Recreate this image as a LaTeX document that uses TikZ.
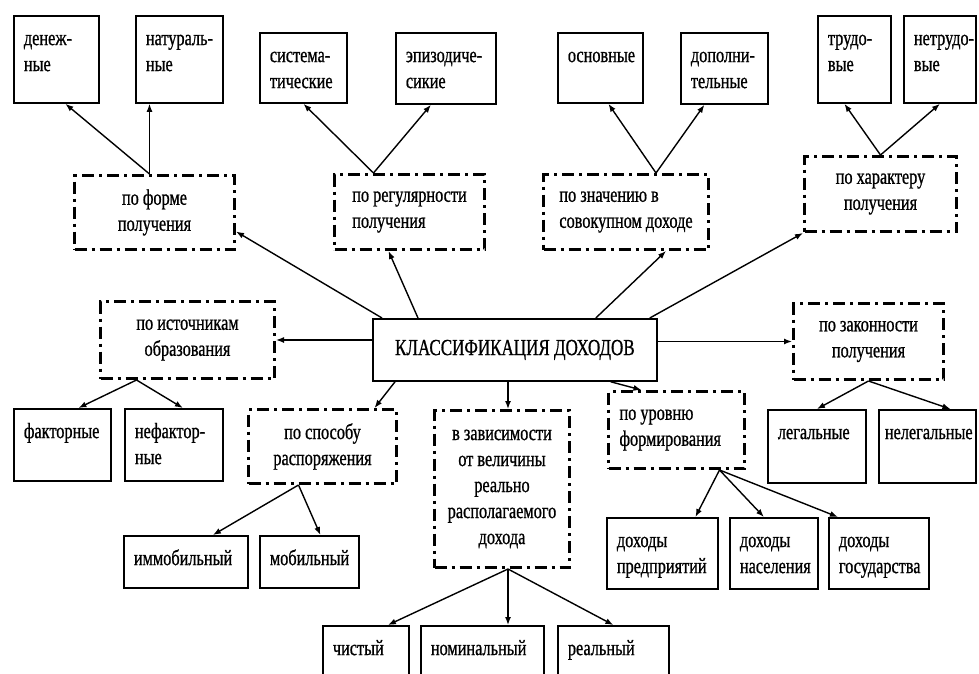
\documentclass[tikz,border=0pt]{standalone}
\usepackage{fontspec}
\setmainfont{Liberation Serif}[FakeStretch=0.74, FakeBold=0.8]
\usetikzlibrary{arrows.meta}

\newcommand\leafcell[3]{\parbox[t][#2pt][t]{\dimexpr#1pt-20pt\relax}{\exhyphenpenalty=10000
	\hyphenpenalty=10000\raggedright\vspace*{11pt}\strut#3}}

\begin{document}
\begin{tikzpicture}[x=1pt, y=-1pt,
	every node/.style={font=\fontsize{22}{26}\selectfont},
	leaf/.style={draw, line width=1.8pt, anchor=north west, inner xsep=10pt, inner ysep=0pt},
	cat/.style={draw, line width=3pt, dash pattern=on 12pt off 5pt on 3pt off 5pt,
		anchor=north west, inner sep=0pt, align=center},
	root/.style={draw, line width=1.8pt, anchor=north west, inner sep=0pt,
		font=\fontsize{23}{28}\selectfont},
	arr/.style={-{Latex[length=8pt,width=6pt]}, line width=1.4pt}]
	\clip (0,0) rectangle (979,674);
	% root
	\node[root, minimum width=284, minimum height=62] (cls) at (372,318) {КЛАССИФИКАЦИЯ ДОХОДОВ};
	% criteria
	\node[cat, minimum width=160, minimum height=74] (form) at (73,174) {по форме\\получения};
	\node[cat, minimum width=150, minimum height=75, align=left] (reg) at (333,173) {по регулярности\\получения};
	\node[cat, minimum width=165, minimum height=75, align=left] (val) at (542,173) {по значению в\\совокупном доходе};
	\node[cat, minimum width=152, minimum height=75] (char) at (803,155) {по характеру\\получения};
	\node[cat, minimum width=174, minimum height=77] (src) at (99,300) {по источникам\\образования};
	\node[cat, minimum width=150, minimum height=76] (law) at (792,302) {по законности\\получения};
	\node[cat, minimum width=148, minimum height=74] (disp) at (247,408) {по способу\\распоряжения};
	\node[cat, minimum width=135, minimum height=157] (dep) at (433,409)
		{в зависимости\\от величины\\реально\\располагаемого\\дохода};
	\node[cat, minimum width=136, minimum height=77, text width=114, align=flush left] (lvl) at (607,390)
		{по уровню\\формирования};
	% kinds
	\node[leaf] (den) at (13,15) {\leafcell{85}{87}{денеж-\\ные}};
	\node[leaf] (nat) at (135,15) {\leafcell{87}{87}{натураль-\\ные}};
	\node[leaf] (syst) at (259,32) {\leafcell{87}{70}{система-\\тические}};
	\node[leaf] (epi) at (395,32) {\leafcell{100}{71}{эпизодиче-\\сикие}};
	\node[leaf] (osn) at (557,32) {\leafcell{85}{70}{основные}};
	\node[leaf] (dop) at (680,32) {\leafcell{87}{71}{дополни-\\тельные}};
	\node[leaf] (trud) at (817,15) {\leafcell{73}{87}{трудо-\\вые}};
	\node[leaf] (netr) at (903,15) {\leafcell{72}{87}{нетрудо-\\вые}};
	\node[leaf] (fact) at (13,408) {\leafcell{97}{72}{факторные}};
	\node[leaf] (nefact) at (124,408) {\leafcell{98}{72}{нефактор-\\ные}};
	\node[leaf] (imm) at (123,535) {\leafcell{124}{52}{иммобильный}};
	\node[leaf] (mob) at (259,535) {\leafcell{99}{52}{мобильный}};
	\node[leaf] (chist) at (322,625) {\leafcell{86}{60}{чистый}};
	\node[leaf] (nom) at (420,625) {\leafcell{123}{60}{номинальный}};
	\node[leaf] (real) at (557,625) {\leafcell{111}{60}{реальный}};
	\node[leaf] (pred) at (606,517) {\leafcell{111}{71}{доходы\\предприятий}};
	\node[leaf] (nas) at (729,517) {\leafcell{88}{71}{доходы\\населения}};
	\node[leaf] (gos) at (828,517) {\leafcell{100}{71}{доходы\\государства}};
	\node[leaf] (legal) at (767,409) {\leafcell{98}{73}{легальные}};
	\node[leaf] (nelegal) at (878,409) {\leafcell{97}{73}{\hspace*{-4pt}нелегальные}};
	% from the root
	\draw[arr] ([xshift=10pt]cls.north west) -- ([yshift=-19pt]form.east);
	\draw[arr] ([xshift=46pt]cls.north west) -- ([xshift=-21pt]reg.south);
	\draw[arr] ([xshift=-62pt]cls.north east) -- ([xshift=40pt]val.south);
	\draw[arr] ([xshift=-8pt]cls.north east) -- (char.south west);
	\draw[arr] (cls.west |- src.east) -- (src.east);
	\draw[arr] (cls.east |- law.west) -- (law.west);
	\draw[arr] ([xshift=23pt]cls.south west) -- ([xshift=52pt]disp.north);
	\coordinate (d) at ([xshift=6pt]dep.south);
	\draw[arr] (d |- cls.south) -- (d |- dep.north);
	\draw[arr] ([xshift=-47pt]cls.south east) -- ([xshift=-35pt]lvl.north);
	% from the criteria
	\coordinate (f) at ([xshift=-5pt]form.north);
	\draw[arr] (f) -- ([xshift=9pt]den.south);
	\draw[arr] (f) -- (f |- nat.south);
	\coordinate (r) at ([xshift=-36pt]reg.north);
	\draw[arr] (r) -- (syst.south);
	\draw[arr] (r) -- ([xshift=-15pt]epi.south);
	\coordinate (v) at ([xshift=30pt]val.north);
	\draw[arr] (v) -- ([xshift=8pt]osn.south);
	\draw[arr] (v) -- ([xshift=-20pt]dop.south);
	\draw[arr] (char.north) -- ([xshift=-10pt]trud.south);
	\draw[arr] (char.north) -- (netr.south);
	\coordinate (s) at ([xshift=-51pt]src.south);
	\draw[arr] (s) -- ([xshift=16pt]fact.north);
	\draw[arr] (s) -- ([xshift=9pt]nefact.north);
	\coordinate (p) at ([xshift=-24pt]disp.south);
	\draw[arr] (p) -- ([xshift=27pt]imm.north);
	\draw[arr] (p) -- ([xshift=11pt]mob.north);
	\draw[arr] (d) -- ([xshift=22pt]chist.north);
	\draw[arr] (d) -- (d |- nom.north);
	\draw[arr] (d) -- (real.north);
	\coordinate (l) at ([xshift=43pt]lvl.south);
	\draw[arr] (l) -- ([xshift=33pt]pred.north);
	\draw[arr] (l) -- ([xshift=-10pt]nas.north);
	\draw[arr] (l) -- ([xshift=-41pt]gos.north);
	\draw[arr] (law.south) -- (legal.north);
	\draw[arr] (law.south) -- ([xshift=23pt]nelegal.north);
\end{tikzpicture}
\end{document}
